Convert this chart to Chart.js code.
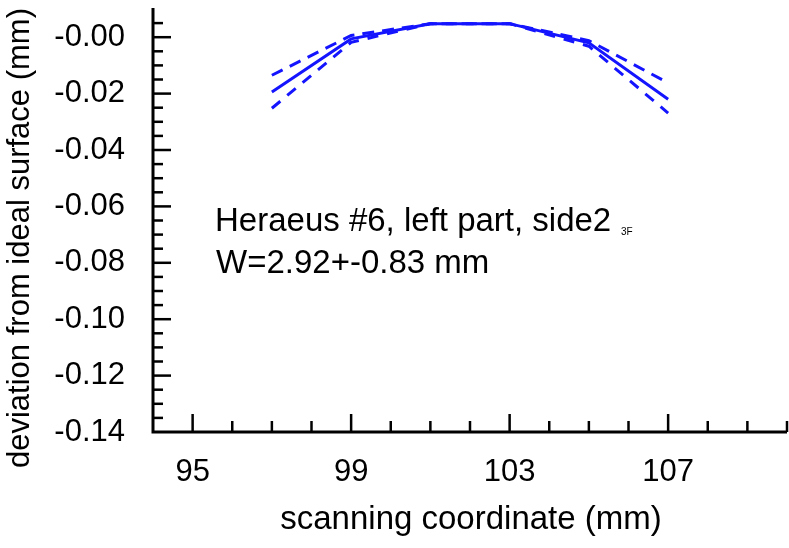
<!DOCTYPE html>
<html>
<head>
<meta charset="utf-8">
<script src="https://cdn.jsdelivr.net/npm/chart.js@4.4.0/dist/chart.umd.min.js"></script>
<style>
  body { margin: 0; background: #fff; }
  #wrap { width: 789px; height: 548px; }
</style>
</head>
<body>
<div id="wrap"><canvas id="profile-chart" width="789" height="548"></canvas></div>
<script>
// scanning coordinate (mm)
var xValues = [97, 99, 101, 103, 105, 107];
// deviation from ideal surface (mm)
var solidValues = [-0.0194, -0.0006, 0.0048, 0.0048, -0.0020, -0.0220];
var upperValues = [-0.0135, 0.0006, 0.0048, 0.0048, -0.0012, -0.0162];
var lowerValues = [-0.0252, -0.0018, 0.0048, 0.0048, -0.0032, -0.0269];

var xTicks = [95, 99, 103, 107];
var xTickLabels = ['95', '99', '103', '107'];
var yTicks = [0, -0.02, -0.04, -0.06, -0.08, -0.10, -0.12, -0.14];
var yTickLabels = ['-0.00', '-0.02', '-0.04', '-0.06', '-0.08', '-0.10', '-0.12', '-0.14'];

var xTitle = 'scanning coordinate (mm)';
var yTitle = 'deviation from ideal surface (mm)';
var noteLine1 = 'Heraeus #6, left part, side2';
var noteTag = '3F';
var noteLine2 = 'W=2.92+-0.83 mm';

var FONT = "'Liberation Sans', Arial, sans-serif";
var BLUE = 'rgb(20, 20, 255)';

function toPoints(values) {
  return values.map(function (v, i) { return { x: xValues[i], y: v }; });
}

function lookup(ticks, labels, value) {
  for (var i = 0; i < ticks.length; i++) {
    if (Math.abs(ticks[i] - value) < 1e-9) return labels[i];
  }
  return '';
}

// axes with inward ticks, titles and the note
var framePlugin = {
  id: 'frame',
  afterDraw: function (chart) {
    var ctx = chart.ctx;
    var area = chart.chartArea;
    var xs = chart.scales.x;
    var ys = chart.scales.y;
    ctx.save();
    ctx.strokeStyle = '#000';
    ctx.lineWidth = 3;
    ctx.lineCap = 'butt';

    ctx.beginPath();
    ctx.moveTo(area.left, area.top - 1);
    ctx.lineTo(area.left, area.bottom);
    ctx.lineTo(area.right, area.bottom);
    ctx.stroke();

    ctx.lineWidth = 2.5;
    for (var v = 95; v <= 110; v++) {
      var px = xs.getPixelForValue(v);
      var len = xTicks.indexOf(v) >= 0 ? 18 : 11;
      ctx.beginPath();
      ctx.moveTo(px, area.bottom);
      ctx.lineTo(px, area.bottom - len);
      ctx.stroke();
    }
    for (var k = 1; k <= 30; k++) {
      var yv = -0.14 + k * 0.005;
      if (yv > 0.0051) break;
      var py = ys.getPixelForValue(yv);
      var major = Math.abs(Math.round(yv / 0.02) * 0.02 - yv) < 1e-9;
      ctx.beginPath();
      ctx.moveTo(area.left, py);
      ctx.lineTo(area.left + (major ? 18 : 10), py);
      ctx.stroke();
    }

    ctx.fillStyle = '#000';
    ctx.textAlign = 'center';
    ctx.textBaseline = 'alphabetic';
    ctx.font = '33px ' + FONT;
    ctx.fillText(xTitle, 471, 529);

    ctx.save();
    ctx.translate(29, 238);
    ctx.rotate(-Math.PI / 2);
    ctx.font = '31px ' + FONT;
    ctx.fillText(yTitle, 0, 0);
    ctx.restore();

    ctx.textAlign = 'left';
    ctx.font = '33px ' + FONT;
    ctx.fillText(noteLine1, 215, 231);
    ctx.fillText(noteLine2, 216, 273);
    ctx.font = '10px ' + FONT;
    ctx.fillText(noteTag, 621, 235);
    ctx.restore();
  }
};

function lineSet(label, values, dash) {
  return {
    label: label,
    data: toPoints(values),
    borderColor: BLUE,
    borderWidth: 3,
    borderDash: dash,
    pointRadius: 0,
    tension: 0,
    fill: false
  };
}

var ctx = document.getElementById('profile-chart').getContext('2d');
var profileChart = new Chart(ctx, {
  type: 'line',
  data: {
    datasets: [
      lineSet('profile', solidValues, []),
      lineSet('upper', upperValues, [12, 8]),
      lineSet('lower', lowerValues, [11, 9])
    ]
  },
  options: {
    responsive: false,
    animation: false,
    layout: { padding: { left: 0, top: 9, right: 2, bottom: 0 } },
    scales: {
      x: {
        type: 'linear',
        min: 94,
        max: 110,
        grid: { display: false, drawTicks: false },
        border: { display: false },
        afterBuildTicks: function (scale) {
          scale.ticks = xTicks.map(function (v) { return { value: v }; });
        },
        afterFit: function (scale) {
          scale.height = 116;
          scale.paddingLeft = 0;
          scale.paddingRight = 0;
        },
        ticks: {
          autoSkip: false,
          maxRotation: 0,
          padding: 22,
          color: '#000',
          font: { family: FONT, size: 31 },
          callback: function (value) { return lookup(xTicks, xTickLabels, value); }
        }
      },
      y: {
        type: 'linear',
        min: -0.14,
        max: 0.01,
        grid: { display: false, drawTicks: false },
        border: { display: false },
        afterBuildTicks: function (scale) {
          scale.ticks = yTicks.map(function (v) { return { value: v }; });
        },
        afterFit: function (scale) {
          scale.width = 153;
          scale.paddingTop = 0;
          scale.paddingBottom = 0;
        },
        ticks: {
          autoSkip: false,
          padding: 28,
          color: '#000',
          font: { family: FONT, size: 31 },
          callback: function (value) { return lookup(yTicks, yTickLabels, value); }
        }
      }
    },
    plugins: {
      legend: { display: false },
      title: { display: false },
      tooltip: { enabled: false }
    }
  },
  plugins: [framePlugin]
});
</script>
</body>
</html>
